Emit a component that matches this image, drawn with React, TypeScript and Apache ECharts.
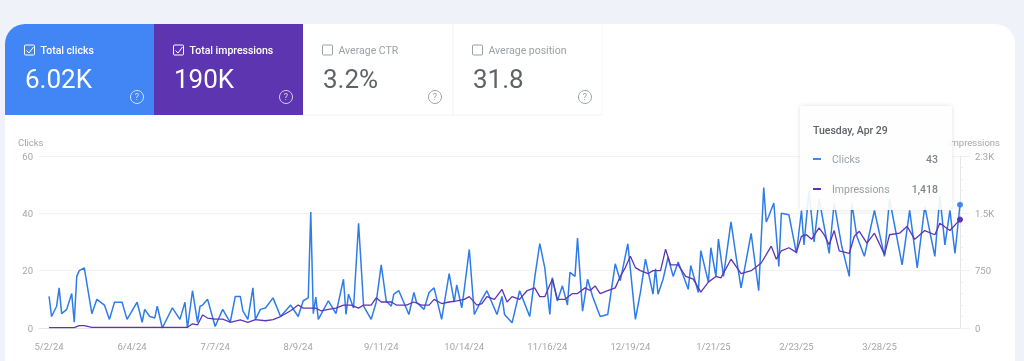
import React, { useEffect, useRef } from "react";
import * as echarts from "echarts";

const tickDays = [0, 33, 66, 99, 132, 165, 198, 231, 264, 297, 330];
const tickLabels = ["5/2/24", "6/4/24", "7/7/24", "8/9/24", "9/11/24", "10/14/24", "11/16/24", "12/19/24", "1/21/25", "2/23/25", "3/28/25"];
const clickDays = [0,1,3,4,5,7,9,10,11,12,14,17,19,22,24,26,29,31,35,37,38,40,42,43,45,49,52,54,55,57,59,60,61,63,66,69,72,74,76,77,79,81,82,84,86,89,92,96,99,101,103,104,105,106,107,111,114,117,118,119,121,123,125,128,130,132,134,136,137,139,143,145,146,149,151,153,156,159,161,162,164,165,167,169,172,174,178,180,181,184,187,191,193,195,197,199,200,202,204,206,207,209,210,212,214,216,219,222,225,227,230,233,235,237,240,241,242,244,246,248,250,254,255,258,259,262,263,265,266,268,271,273,275,279,282,284,285,286,288,290,291,294,297,299,300,302,304,306,310,312,315,318,319,321,324,328,332,334,339,342,345,348,352,354,356,358,360,362];
const clicks = [11,4,7.6,14,5,6.5,12,2,18,20,21,5,10,8,3,9,9,3,9,2,6.5,4,3.5,7.6,0,7,3,9,0,13,2,7.6,8,10,0.5,6.5,2,11,11,6,3,14,3,6.5,7,10.5,4,8,4,9.5,10.5,40.5,5,10.8,3,9.5,5,17,4.7,11.8,7,36.5,7.6,3,9,22,9.4,7.6,11.8,13,4.7,12.4,9,6.5,12.4,14,3,19,9,15,7,13.5,27.4,4.7,10,13,4.7,11,4.7,1.8,13,4,17.6,29.4,21,4.7,17.6,9.4,14.7,8,19.4,18,31.4,5.9,17,11,4,4.7,22.4,16.5,29.4,3,12.4,24,11.8,20.6,11.8,17,24.7,18,23,13.5,21.8,12.4,27,16,28,18,31,18,37,25,14,33,13,49,37,39,43.6,21.5,40,39.5,26,41,29,48,30,45,26,43.6,28.5,18,43.6,32,25,41,25,45,22,41,21,42.4,25,46,29,41,26,43];
const imprDays = [0,10,12,14,17,25,35,45,55,57,59,61,63,66,69,72,76,79,82,86,89,92,96,99,101,104,106,108,111,114,117,120,123,125,128,130,132,134,136,138,140,142,145,148,151,153,156,159,162,165,167,170,172,174,177,180,182,184,187,190,193,195,197,200,202,205,208,210,213,215,217,219,222,225,227,229,231,233,235,238,240,243,245,247,250,253,256,259,262,265,267,271,275,279,283,287,289,291,294,297,299,301,303,306,308,310,312,314,318,320,322,325,328,332,334,338,341,344,348,352,354,358,362];
const impressions = [4,4,30,30,8,8,8,8,10,55,40,170,130,115,115,75,105,75,110,95,110,150,225,300,260,260,260,225,245,260,300,300,260,300,300,395,340,340,340,300,300,300,340,300,300,375,320,340,355,375,410,300,320,410,375,505,340,410,375,490,525,410,410,640,375,375,450,450,525,490,550,450,490,525,675,790,940,790,750,710,750,750,1030,825,825,675,640,470,600,675,655,900,710,750,850,1070,900,1010,1050,990,1200,1220,1160,1310,1220,1090,1275,1010,975,1200,1265,1110,1240,960,1220,1240,1330,1160,1275,1220,1370,1275,1418];
const clicksAxisTicks = [0, 20, 40, 60];
const imprLabels: Record<number, string> = { 0: "0", 750: "750", 1500: "1.5K", 2250: "2.3K" };

const BLUE = "#4285f4";
const LINE_BLUE = "#2f7ce9";
const PURPLE = "#5e35b1";
const FONT = "Roboto";

function zip(xs: number[], ys: number[]) {
  return xs.map((x, i) => [x, ys[i]]);
}

function checkbox(x: number, y: number, color: string, checked: boolean) {
  const out: any[] = [
    { type: "rect", z: 3, shape: { x, y, width: 10, height: 10, r: 1 }, style: { fill: "none", stroke: color, lineWidth: 1 } },
  ];
  if (checked) {
    out.push({ type: "polyline", z: 3, shape: { points: [[x + 2, y + 5.5], [x + 4.5, y + 8], [x + 9, y + 2]] }, style: { fill: "none", stroke: color, lineWidth: 1 } });
  }
  return out;
}

function help(cx: number, cy: number, color: string) {
  return [
    { type: "circle", z: 3, shape: { cx, cy, r: 6.5 }, style: { fill: "none", stroke: color, lineWidth: 1 } },
    { type: "text", z: 3, style: { x: cx, y: cy, text: "?", fill: color, font: `9px ${FONT}`, align: "center", verticalAlign: "middle" } },
  ];
}

function tab(x: number, label: string, value: string, fg: string, labelColor: string, checked: boolean) {
  return [
    ...checkbox(x + 19.5, 45, labelColor, checked),
    { type: "text", z: 3, style: { x: x + 35.5, y: 50, text: label, fill: labelColor, font: `${checked ? 500 : 400} 10.5px ${FONT}`, verticalAlign: "middle" } },
    { type: "text", z: 3, style: { x: x + 20, y: 79, text: value, fill: fg, font: `26px ${FONT}`, verticalAlign: "middle" } },
    ...help(x + 132, 97, labelColor === "#fff" ? "rgba(255,255,255,0.75)" : "#9aa0a6"),
  ];
}

export default function App() {
  const ref = useRef<HTMLDivElement>(null);
  useEffect(() => {
    document.body.style.margin = "0";
    const chart = echarts.init(ref.current!, null, { renderer: "svg" });
    const lastDot = (n: number) => (_: any, p: any) => (p.dataIndex === n - 1 ? 6 : 0);
    chart.setOption({
      animation: false,
      backgroundColor: "#eff3f9",
      textStyle: { fontFamily: FONT },
      grid: { left: 39, right: 64, top: 156, bottom: 33 },
      xAxis: {
        type: "value",
        min: -4,
        max: 362,
        splitLine: { show: false },
        axisTick: { show: false },
        axisLine: { show: true, onZero: false, lineStyle: { color: "#e6e6e6" } },
        axisLabel: {
          customValues: tickDays,
          color: "#a6a6a6",
          fontSize: 9.5,
          margin: 13,
          formatter: (v: number) => tickLabels[tickDays.indexOf(v)] ?? "",
        },
      },
      yAxis: [
        {
          type: "value",
          min: clicksAxisTicks[0],
          max: clicksAxisTicks[3],
          interval: 20,
          axisLine: { show: false },
          axisTick: { show: false },
          splitLine: { lineStyle: { color: "#f3f3f3" } },
          axisLabel: { color: "#a6a6a6", fontSize: 9.5, margin: 6 },
        },
        {
          type: "value",
          min: 0,
          max: 2250,
          interval: 750,
          position: "right",
          axisLine: { show: true, lineStyle: { color: "#e6e6e6" } },
          axisTick: { show: true, length: 10, lineStyle: { color: "#f0f0f0" } },
          minorTick: { show: true, splitNumber: 5, length: 3, lineStyle: { color: "#ececec" } },
          splitLine: { show: false },
          axisLabel: { color: "#a6a6a6", fontSize: 9.5, margin: 15, formatter: (v: number) => imprLabels[v] ?? "" },
        },
      ],
      series: [
        {
          name: "Clicks",
          type: "line",
          yAxisIndex: 0,
          data: zip(clickDays, clicks),
          symbol: "circle",
          symbolSize: lastDot(clicks.length),
          showSymbol: true,
          lineStyle: { color: LINE_BLUE, width: 1.5 },
          itemStyle: { color: BLUE },
        },
        {
          name: "Impressions",
          type: "line",
          yAxisIndex: 1,
          data: zip(imprDays, impressions),
          symbol: "circle",
          symbolSize: lastDot(impressions.length),
          showSymbol: true,
          lineStyle: { color: PURPLE, width: 1.3 },
          itemStyle: { color: PURPLE },
        },
      ],
      graphic: [
        { type: "rect", z: -2, silent: true, shape: { x: 5, y: 24, width: 1010, height: 345, r: [20, 20, 0, 0] }, style: { fill: "#fff" } },
        { type: "rect", z: 1, shape: { x: 5, y: 24, width: 149, height: 91, r: [20, 0, 0, 0] }, style: { fill: BLUE } },
        { type: "rect", z: 1, shape: { x: 154, y: 24, width: 149, height: 91 }, style: { fill: PURPLE } },
        { type: "line", z: 1, shape: { x1: 303, y1: 115, x2: 602, y2: 115 }, style: { stroke: "#f2f2f2", lineWidth: 1 } },
        { type: "line", z: 1, shape: { x1: 453, y1: 24, x2: 453, y2: 115 }, style: { stroke: "#f2f2f2", lineWidth: 1 } },
        { type: "line", z: 1, shape: { x1: 602, y1: 24, x2: 602, y2: 115 }, style: { stroke: "#f5f5f5", lineWidth: 1 } },
        ...tab(5, "Total clicks", "6.02K", "#fff", "#fff", true),
        ...tab(154, "Total impressions", "190K", "#fff", "#fff", true),
        ...tab(303, "Average CTR", "3.2%", "#5f6368", "#9aa0a6", false),
        ...tab(453, "Average position", "31.8", "#5f6368", "#9aa0a6", false),
        { type: "text", z: 3, style: { x: 18, y: 142, text: "Clicks", fill: "#a6a6a6", font: `9.5px ${FONT}`, verticalAlign: "middle" } },
        { type: "text", z: 3, style: { x: 1000, y: 142, text: "Impressions", fill: "#a6a6a6", font: `9.5px ${FONT}`, align: "right", verticalAlign: "middle" } },
        {
          type: "rect",
          z: 50,
          shape: { x: 800, y: 106, width: 152, height: 104, r: 2 },
          style: { fill: "rgba(255,255,255,0.9)", shadowBlur: 4, shadowColor: "rgba(0,0,0,0.14)" },
        },
        { type: "text", z: 51, style: { x: 813, y: 130, text: "Tuesday, Apr 29", fill: "#5f6368", font: `500 10.5px ${FONT}`, verticalAlign: "middle" } },
        { type: "line", z: 51, shape: { x1: 813, y1: 159, x2: 821, y2: 159 }, style: { stroke: BLUE, lineWidth: 2 } },
        { type: "text", z: 51, style: { x: 832, y: 159, text: "Clicks", fill: "#9aa0a6", font: `10.5px ${FONT}`, verticalAlign: "middle" } },
        { type: "text", z: 51, style: { x: 938, y: 159, text: "43", fill: "#80868b", font: `500 10.5px ${FONT}`, align: "right", verticalAlign: "middle" } },
        { type: "line", z: 51, shape: { x1: 813, y1: 189, x2: 821, y2: 189 }, style: { stroke: PURPLE, lineWidth: 2 } },
        { type: "text", z: 51, style: { x: 832, y: 189, text: "Impressions", fill: "#9aa0a6", font: `10.5px ${FONT}`, verticalAlign: "middle" } },
        { type: "text", z: 51, style: { x: 938, y: 189, text: "1,418", fill: "#80868b", font: `500 10.5px ${FONT}`, align: "right", verticalAlign: "middle" } },
      ],
    });
    return () => chart.dispose();
  }, []);
  return <div ref={ref} style={{ width: 1024, height: 361, filter: "blur(0.5px)" }} />;
}
